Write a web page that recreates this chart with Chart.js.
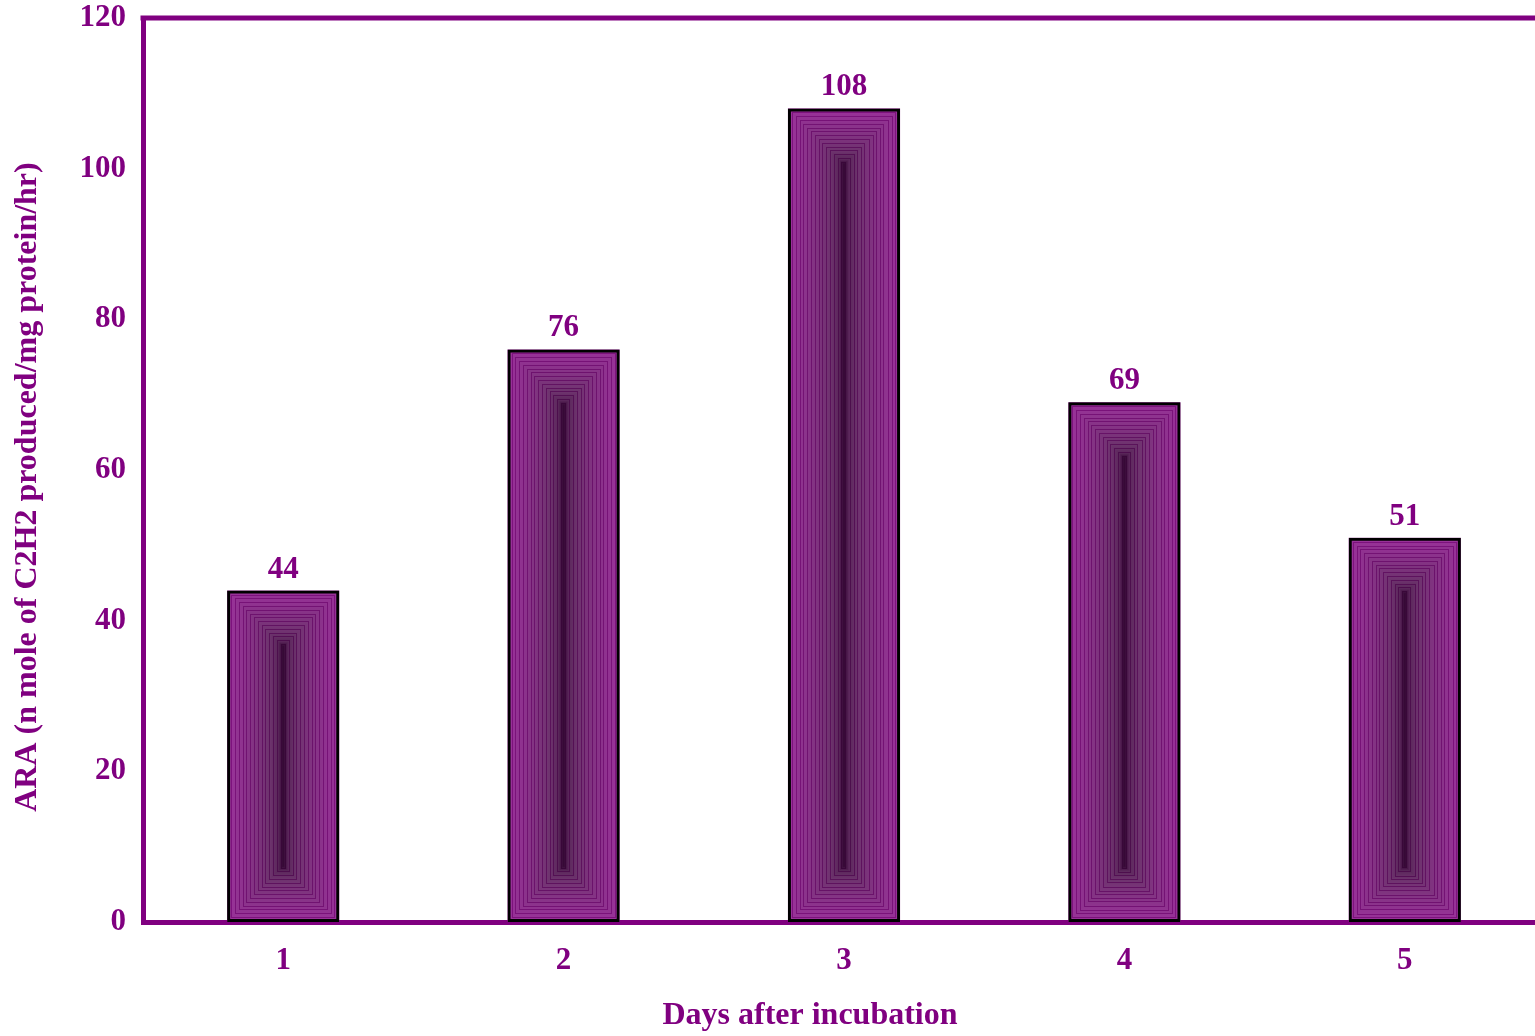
<!DOCTYPE html>
<html>
<head>
<meta charset="utf-8">
<script src="https://cdn.jsdelivr.net/npm/chart.js@4/dist/chart.umd.min.js"></script>
<style>
  html, body { margin: 0; padding: 0; background: #ffffff; overflow: hidden; }
  #wrap { width: 1560px; height: 1036px; }
</style>
</head>
<body>
<div id="wrap"><canvas id="c" width="1560" height="1036"></canvas></div>
<script>
// Acetylene reduction activity by incubation day
const days = ['1', '2', '3', '4', '5'];
const araValues = [44, 76, 108, 69, 51];
const yTicks = [0, 20, 40, 60, 80, 100, 120];

const PURPLE = '#800080';
const FONT = "'Liberation Serif', 'Times New Roman', serif";
const X_TITLE = 'Days after incubation';
const Y_TITLE = 'ARA (n mole of C2H2 produced/mg protein/hr)';

// colour ramp from the bar rim (0) to its core (1)
const rampStops = [
  [0.00, [156, 50, 156]],
  [0.45, [132, 52, 132]],
  [0.75, [110, 52, 110]],
  [0.90, [92, 40, 92]],
  [1.00, [48, 4, 48]]
];

function ramp(t) {
  for (let i = 1; i < rampStops.length; i++) {
    const [t1, c1] = rampStops[i];
    const [t0, c0] = rampStops[i - 1];
    if (t <= t1) {
      const f = (t - t0) / (t1 - t0);
      return c0.map((v, k) => Math.round(v + (c1[k] - v) * f));
    }
  }
  return rampStops[rampStops.length - 1][1];
}
const rgb = c => 'rgb(' + c.join(',') + ')';

// Concentric-rectangle shading inside each bar, light at the rim, dark at the core
const barShading = {
  id: 'barShading',
  beforeDatasetsDraw(chart) {
    const ctx = chart.ctx;
    const meta = chart.getDatasetMeta(0);
    meta.data.forEach(bar => {
      const left = bar.x - bar.width / 2;
      const right = bar.x + bar.width / 2;
      const top = Math.min(bar.y, bar.base);
      const bottom = Math.max(bar.y, bar.base);
      const half = (right - left) / 2;
      ctx.save();
      for (let d = 0; d < half; d += 1) {
        const w = right - left - 2 * d;
        const h = bottom - top - 2 * d;
        if (w <= 0 || h <= 0) break;
        ctx.fillStyle = rgb(ramp(d / half));
        ctx.fillRect(left + d, top + d, w, h);
      }
      // thin, more saturated banding lines
      ctx.lineWidth = 1;
      for (let d = 4; d < half - 1; d += 3.8) {
        const w = right - left - 2 * d;
        const h = bottom - top - 2 * d;
        if (w <= 1 || h <= 1) break;
        const c = ramp(d / half);
        ctx.strokeStyle = rgb([Math.round(c[0] * 0.82), Math.round(c[1] * 0.35), Math.round(c[2] * 0.82)]);
        ctx.strokeRect(Math.round(left + d) + 0.5, Math.round(top + d) + 0.5, Math.round(w) - 1, Math.round(h) - 1);
      }
      ctx.restore();
    });
  }
};

// Top frame line, value labels over bars and axis titles
const frameAndLabels = {
  id: 'frameAndLabels',
  afterDatasetsDraw(chart) {
    const ctx = chart.ctx;
    const a = chart.chartArea;
    ctx.save();
    ctx.strokeStyle = PURPLE;
    ctx.lineWidth = 5;
    ctx.beginPath();
    ctx.moveTo(a.left - 2.5, a.top);
    ctx.lineTo(chart.width, a.top);
    ctx.stroke();

    const meta = chart.getDatasetMeta(0);
    ctx.fillStyle = PURPLE;
    ctx.font = 'bold 31px ' + FONT;
    ctx.textAlign = 'center';
    ctx.textBaseline = 'alphabetic';
    meta.data.forEach((bar, i) => {
      ctx.fillText(String(araValues[i]), bar.x, bar.y - 13);
    });

    ctx.font = 'bold 32px ' + FONT;
    ctx.textBaseline = 'middle';
    ctx.fillText(X_TITLE, (a.left + a.right) / 2 - 34, 1016);

    ctx.translate(28, (a.top + a.bottom) / 2 + 17);
    ctx.rotate(-Math.PI / 2);
    ctx.fillText(Y_TITLE, 0, 0);
    ctx.restore();
  }
};

new Chart(document.getElementById('c'), {
  type: 'bar',
  data: {
    labels: days,
    datasets: [{
      data: araValues,
      backgroundColor: 'rgba(0,0,0,0)',
      borderColor: '#000000',
      borderWidth: 3,
      borderSkipped: false,
      barPercentage: 0.4,
      categoryPercentage: 1.0
    }]
  },
  options: {
    responsive: false,
    animation: false,
    layout: { padding: { top: 18, right: 15, left: 0, bottom: 0 } },
    plugins: { legend: { display: false }, tooltip: { enabled: false } },
    scales: {
      x: {
        grid: { display: false, drawTicks: false },
        border: { display: true, color: PURPLE, width: 5 },
        ticks: { color: PURPLE, font: { family: FONT, size: 31, weight: 'bold' }, padding: 20 },
        afterFit(scale) { scale.height = 114; scale.paddingLeft = 0; scale.paddingRight = 0; }
      },
      y: {
        min: 0, max: 120,
        afterBuildTicks(scale) { scale.ticks = yTicks.map(v => ({ value: v })); },
        grid: { display: false, drawTicks: false },
        border: { display: true, color: PURPLE, width: 5 },
        ticks: { color: PURPLE, font: { family: FONT, size: 31, weight: 'bold' }, padding: 17 },
        afterFit(scale) { scale.width = 143; scale.paddingTop = 0; scale.paddingBottom = 0; }
      }
    }
  },
  plugins: [barShading, frameAndLabels]
});
</script>
</body>
</html>
